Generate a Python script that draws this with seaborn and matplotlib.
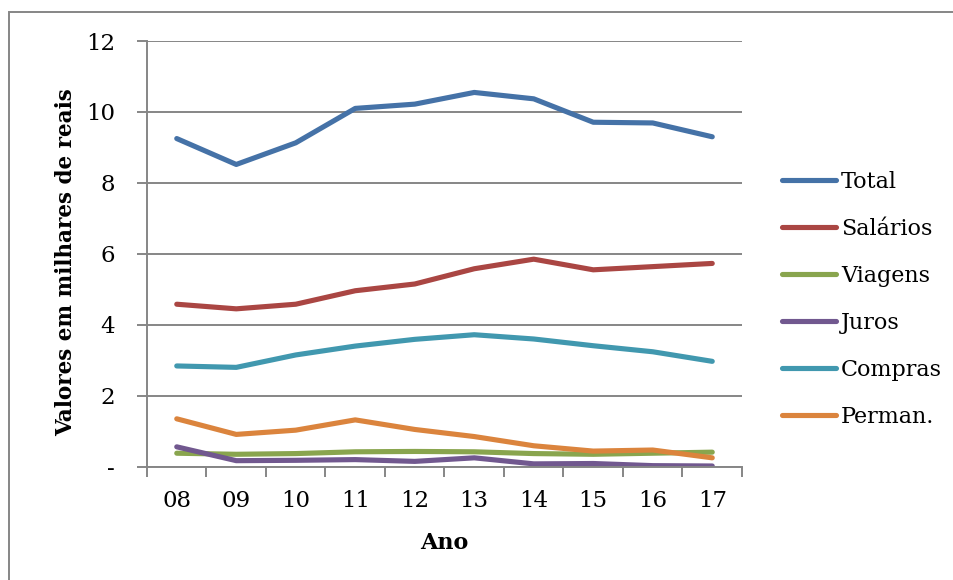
import matplotlib
matplotlib.use("Agg")
import matplotlib.pyplot as plt
import matplotlib.patches as mpatches
from matplotlib.ticker import FixedLocator, NullFormatter
import seaborn as sns
import pandas as pd

# Annual expenses (thousands of reais)
anos = ["08", "09", "10", "11", "12", "13", "14", "15", "16", "17"]
total = [9.25, 8.52, 9.13, 10.10, 10.22, 10.55, 10.37, 9.71, 9.69, 9.30]
salarios = [4.58, 4.45, 4.58, 4.96, 5.15, 5.58, 5.85, 5.55, 5.64, 5.73]
viagens = [0.38, 0.35, 0.37, 0.42, 0.43, 0.42, 0.37, 0.35, 0.38, 0.41]
juros = [0.56, 0.17, 0.18, 0.20, 0.15, 0.25, 0.08, 0.09, 0.03, 0.02]
compras = [2.84, 2.80, 3.15, 3.40, 3.59, 3.72, 3.60, 3.41, 3.24, 2.97]
perman = [1.35, 0.91, 1.03, 1.32, 1.05, 0.85, 0.59, 0.44, 0.47, 0.25]

series_names = ["Total", "Salários", "Viagens", "Juros", "Compras", "Perman."]
series_values = [total, salarios, viagens, juros, compras, perman]
colors = ["#4572A7", "#AA4643", "#89A54E", "#71588F", "#4198AF", "#DB843D"]

y_ticks = [0, 2, 4, 6, 8, 10, 12]
y_tick_labels = ["-", "2", "4", "6", "8", "10", "12"]

rows = []
for name, vals in zip(series_names, series_values):
    for ano, v in zip(anos, vals):
        rows.append({"Ano": ano, "Valor": v, "Série": name})
df = pd.DataFrame(rows)

sns.set_theme(style="white")
plt.rcParams["font.family"] = ["DejaVu Serif"]
plt.rcParams["text.color"] = "black"
plt.rcParams["axes.labelcolor"] = "black"

fig = plt.figure(figsize=(9.54, 5.80), dpi=100)
ax = fig.add_axes([147 / 954, 1 - 466.7 / 580, (742 - 147) / 954, (466.7 - 41) / 580])

sns.lineplot(data=df, x="Ano", y="Valor", hue="Série", hue_order=series_names,
             palette=colors, linewidth=3.7, sort=False, ax=ax, legend=True)
for ln in ax.get_lines():
    ln.set_solid_capstyle("round")
    ln.set_solid_joinstyle("round")

grid_c = "#868686"
ax.set_xlim(-0.5, len(anos) - 0.5)
ax.set_ylim(0, 12)
ax.set_yticks(y_ticks)
ax.set_yticklabels(y_tick_labels)
ax.set_xticks(range(len(anos)))
ax.set_xticklabels(anos)
ax.xaxis.set_minor_locator(FixedLocator([i - 0.5 for i in range(len(anos) + 1)]))
ax.xaxis.set_minor_formatter(NullFormatter())

ax.grid(axis="y", color=grid_c, linewidth=1.4)
ax.set_axisbelow(True)
for side in ["top", "right"]:
    ax.spines[side].set_visible(False)
for side in ["left", "bottom"]:
    ax.spines[side].set_color(grid_c)
    ax.spines[side].set_linewidth(1.4)

ax.tick_params(axis="x", which="major", length=0, pad=17, labelsize=16.5, labelcolor="black")
ax.tick_params(axis="x", which="minor", bottom=True, length=7, width=1.4, color=grid_c)
ax.tick_params(axis="y", which="major", left=True, length=7, width=1.4, color=grid_c,
               pad=16, labelsize=16.5, labelcolor="black")

ax.set_xlabel("Ano", fontsize=16, fontweight="bold", labelpad=14, color="black")
ax.set_ylabel("Valores em milhares de reais", fontsize=15.5, fontweight="bold",
              color="black")
ax.yaxis.set_label_coords(-0.117, 0.48)

leg = ax.legend(loc="center left", bbox_to_anchor=(1.052, 0.393), frameon=False,
                fontsize=16, handlelength=2.43, handletextpad=0.23, labelspacing=1.12,
                borderaxespad=0)
for h in leg.get_lines():
    h.set_linewidth(3.7)
    h.set_solid_capstyle("round")
for t in leg.get_texts():
    t.set_color("black")

# outer chart frame
fig.patches.append(mpatches.Rectangle((9 / 954, -0.1), 1.2, 1 - 12 / 580 + 0.1,
                                      transform=fig.transFigure, fill=False,
                                      edgecolor=grid_c, linewidth=1.4))

fig.savefig("out.png", dpi=100)
